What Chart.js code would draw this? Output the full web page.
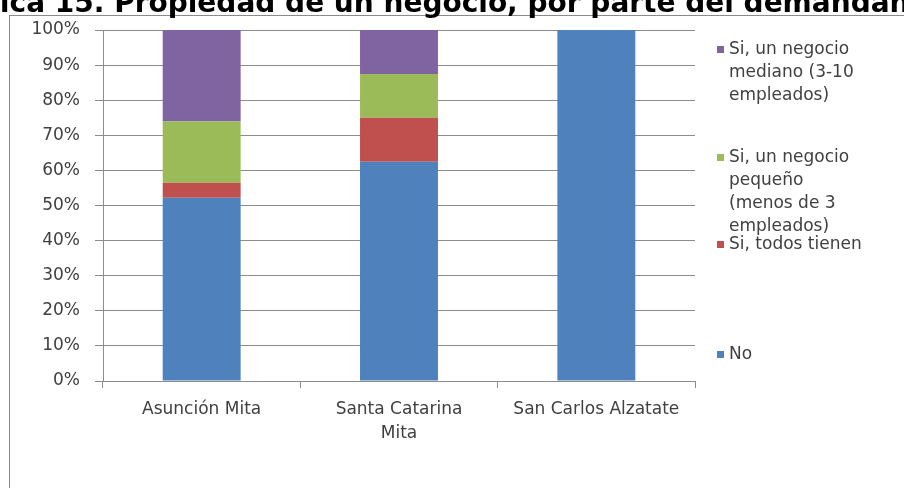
<!DOCTYPE html>
<html>
<head>
<meta charset="utf-8">
<script src="https://cdn.jsdelivr.net/npm/chart.js@4/dist/chart.umd.min.js"></script>
<style>
  html, body { margin: 0; padding: 0; background: #fff; }
</style>
</head>
<body>
<canvas id="negocioChart" width="904" height="488"></canvas>
<script>
// categorias (multilinea como en el original)
var municipios = [['Asunción Mita'], ['Santa Catarina', 'Mita'], ['San Carlos Alzatate']];

// porcentajes por respuesta
var no          = [52.2, 62.5, 100];
var todosTienen = [4.3, 12.5, 0];
var pequeno     = [17.4, 12.5, 0];
var mediano     = [26.1, 12.5, 0];

// nombres de serie, partidos en lineas como en la leyenda
var nombreNo       = ['No'];
var nombreTodos    = ['Si, todos tienen'];
var nombrePequeno  = ['Si, un negocio', 'pequeño', '(menos de 3', 'empleados)'];
var nombreMediano  = ['Si, un negocio', 'mediano (3-10', 'empleados)'];

var titulo = 'Gráfica 15. Propiedad de un negocio, por parte del demandante';

var FONT = 'DejaVu Sans';
var TXT = '#404040';
var GRID = '#8c8c8c';

var legendPlugin = {
    id: 'excelLegend',
    beforeDraw: function(chart) {
        var ctx = chart.ctx;
        ctx.save();
        ctx.fillStyle = '#fff';
        ctx.fillRect(0, 0, chart.width, chart.height);
        // marco del grafico
        ctx.strokeStyle = '#8a8a8a';
        ctx.lineWidth = 1;
        ctx.strokeRect(9.5, 15.5, 1000, 1000);
        ctx.restore();
    },
    afterDraw: function(chart) {
        var ctx = chart.ctx;
        ctx.save();
        // titulo, cortado arriba
        ctx.font = 'bold 28px "' + FONT + '"';
        ctx.fillStyle = '#000';
        ctx.textBaseline = 'alphabetic';
        ctx.textAlign = 'left';
        var off = ctx.measureText('Gráf').width;
        ctx.fillText(titulo, 1 - off, 12);

        // leyenda (orden inverso)
        var tops = [50, 158, 245, 355];
        var ds = chart.data.datasets.slice().reverse();
        ctx.font = '17px "' + FONT + '"';
        ctx.textBaseline = 'middle';
        ds.forEach(function(d, i) {
            ctx.fillStyle = d.backgroundColor;
            ctx.fillRect(717, tops[i] - 4, 7, 7);
            ctx.fillStyle = TXT;
            d.lineas.forEach(function(l, j) {
                ctx.fillText(l, 729, tops[i] + j * 23);
            });
        });
        ctx.restore();
    }
};

new Chart(document.getElementById('negocioChart'), {
    type: 'bar',
    data: {
        labels: municipios,
        datasets: [
            { label: nombreNo.join(' '), lineas: nombreNo, data: no, backgroundColor: '#4f81bd' },
            { label: nombreTodos.join(' '), lineas: nombreTodos, data: todosTienen, backgroundColor: '#c0504d' },
            { label: nombrePequeno.join(' '), lineas: nombrePequeno, data: pequeno, backgroundColor: '#9bbb59' },
            { label: nombreMediano.join(' '), lineas: nombreMediano, data: mediano, backgroundColor: '#8064a2' }
        ]
    },
    options: {
        responsive: false,
        animation: false,
        devicePixelRatio: 1,
        barPercentage: 0.395,
        categoryPercentage: 1,
        layout: { padding: { top: 30, right: 209, bottom: 0, left: 0 } },
        plugins: {
            legend: { display: false },
            title: { display: false },
            tooltip: { enabled: false }
        },
        scales: {
            x: {
                stacked: true,
                grid: { offset: true, drawOnChartArea: false, drawTicks: true, tickLength: 7, color: GRID },
                border: { color: GRID },
                ticks: { color: TXT, font: { family: FONT, size: 17, lineHeight: 1.4 }, padding: 10, maxRotation: 0, autoSkip: false },
                afterFit: function(s) { s.height = 107; }
            },
            y: {
                stacked: true,
                min: 0,
                max: 100,
                grid: { color: GRID, tickLength: 8 },
                border: { color: GRID },
                ticks: {
                    stepSize: 10,
                    color: TXT,
                    font: { family: FONT, size: 17 },
                    padding: 15,
                    callback: function(v) { return v + '%'; }
                },
                afterFit: function(s) { s.width = 103; }
            }
        }
    },
    plugins: [legendPlugin]
});
</script>
</body>
</html>
